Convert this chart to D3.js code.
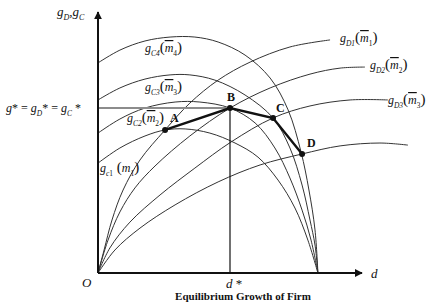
<!DOCTYPE html>
<html><head><meta charset="utf-8">
<script src="https://cdn.jsdelivr.net/npm/d3@7"></script>
<style>
html,body{margin:0;padding:0;background:#fff;}
svg text{font-family:"Liberation Serif","Times New Roman",serif;fill:#111;}
</style></head>
<body><svg id="c" width="436" height="304"></svg>
<script>
// ---- data (d, g) in chart units ----
const gC1 = [[0,42.1],[8.3,47.9],[17.8,52.5],[25.4,54.8],[33,55.2],[42.4,53.6],[51.9,49.8],[60.6,44.4],[68.2,35.6],[74.6,24.9],[79.5,12.6],[83.3,0]];
const gC2 = [[0,53.6],[8.3,59],[17.8,63.2],[29.2,65.5],[38.6,65.5],[50,63.2],[59.5,57.5],[67,47.9],[72.7,36.4],[77.3,24.1],[80.7,12.6],[83.3,0]];
const gC3 = [[0,66.3],[8.3,70.9],[17.8,74.3],[27.3,75.9],[34.8,75.9],[44.3,73.9],[55.7,68.2],[66.3,59.4],[72.7,47.9],[77.3,33.7],[80.3,20.3],[82.2,10.7],[83.3,0]];
const gC4 = [[0,80.5],[8.3,85.4],[17.8,88.9],[27.3,90.4],[36.7,90.4],[45.5,88.5],[55.7,83.5],[65.2,74.7],[72,62.5],[76.9,46.4],[79.9,31.8],[82.2,16.5],[83.3,0]];
const gD1 = [[0,0],[2.3,8.8],[5.3,20.3],[9.5,31.8],[15.9,43.3],[25.4,54.8],[34.8,65.1],[45.5,73.9],[57.6,80.8],[72.7,86.6],[87.9,89.3]];
const gD2 = [[0,0],[3.8,12.6],[8.3,23.4],[14,32.6],[21.6,41],[34.8,52.5],[50,63.2],[65.2,70.9],[80.3,76.2],[91.7,78.5],[101.1,78.9]];
const gD3 = [[0,0],[4.5,9.6],[12.1,19.5],[23.5,29.9],[36.7,40.2],[50.4,50.2],[66.3,59.4],[80.3,64],[95.5,66.3],[109.8,66.3]];
const gD4 = [[0,0],[6.4,8.8],[15.9,17.2],[29.2,26.1],[45.5,34.9],[61.4,41.4],[77.3,45.6],[91.7,48.7],[106.8,49.8],[117.4,49]];
const eqNames = ["A","B","C","D"];
const eqPoints = [[25.4,54.8],[50,63.2],[66.3,59.4],[77.3,45.6]];
const dStar = 50, gStar = 63.2;
const axisMax = [100, 100];

const svg = d3.select("#c");
const x = d3.scaleLinear().domain([0, axisMax[0]]).range([98, 362]);
const y = d3.scaleLinear().domain([0, axisMax[1]]).range([273, 12]);
const line = d3.line().x(d=>x(d[0])).y(d=>y(d[1])).curve(d3.curveCatmullRom.alpha(0.5));

// curves
[gC1,gC2,gC3,gC4,gD1,gD2,gD3,gD4].forEach(c=>{
  svg.append("path").attr("d", line(c)).attr("fill","none").attr("stroke","#333").attr("stroke-width",1);
});

// g* horizontal and d* vertical
svg.append("line").attr("x1",x(0)).attr("x2",x(dStar)).attr("y1",y(gStar)).attr("y2",y(gStar))
  .attr("stroke","#8c8c8c").attr("stroke-width",2);
svg.append("line").attr("x1",x(dStar)).attr("x2",x(dStar)).attr("y1",y(gStar)).attr("y2",y(0))
  .attr("stroke","#111").attr("stroke-width",1.2);

// equilibrium path
svg.append("path").attr("d", d3.line().x(d=>x(d[0])).y(d=>y(d[1]))(eqPoints))
  .attr("fill","none").attr("stroke","#111").attr("stroke-width",2.4);
svg.selectAll("circle.eq").data(eqPoints).join("circle").attr("class","eq")
  .attr("cx",d=>x(d[0])).attr("cy",d=>y(d[1])).attr("r",3).attr("fill","#111");

// axes with arrows
const defs = svg.append("defs");
defs.append("marker").attr("id","arr").attr("viewBox","0 0 10 10").attr("refX",9).attr("refY",5)
  .attr("markerWidth",4).attr("markerHeight",4).attr("orient","auto")
  .append("path").attr("d","M0,0 L10,5 L0,10 z").attr("fill","#111");
svg.append("line").attr("x1",x(0)).attr("y1",y(0)).attr("x2",x(0)).attr("y2",y(axisMax[1]))
  .attr("stroke","#111").attr("stroke-width",2).attr("marker-end","url(#arr)");
svg.append("line").attr("x1",x(0)).attr("y1",y(0)).attr("x2",x(axisMax[0])).attr("y2",y(0))
  .attr("stroke","#111").attr("stroke-width",2).attr("marker-end","url(#arr)");

// math label helper: parts [text, opts]
function mlabel(px, py, parts, size){
  const t = svg.append("text").attr("x",px).attr("y",py).attr("font-size",size);
  let shift = 0;
  parts.forEach(p=>{
    const txt = p[0], opt = p[1] || {};
    const ts = t.append("tspan").text(txt);
    const target = opt.sub ? size*0.3 : 0;
    if (target !== shift){ ts.attr("dy", target - shift); shift = target; }
    if (opt.sub) ts.attr("font-size", size*0.62);
    if (opt.it) ts.attr("font-style","italic");
    if (opt.b) ts.attr("font-weight","bold");
    if (opt.over) ts.style("text-decoration","overline");
    if (opt.big) ts.attr("font-size", size*1.25);
  });
  return t;
}
const I={it:true}, S={sub:true,it:true}, SN={sub:true}, O={it:true,over:true}, P={big:true};

mlabel(57, 16, [["g",I],["D",S],[",",{}],["g",I],["C",S]], 13);
mlabel(6, 112, [["g",I],["* = ",{}],["g",I],["D",S],["* = ",{}],["g",I],["C",S],[" *",{}]], 12);

function cLabel(px, py, k){
  return mlabel(px, py, [["g",I],["C"+k,S],["(",P],["m",O],[String(k),SN],[")",P]], 12);
}
cLabel(145, 52, 4);
cLabel(145, 91, 3);
cLabel(127, 122, 2);
mlabel(100, 172, [["g",I],["c",S],["1",SN],[" (",P],["m",I],["1",SN],[")",P]], 12);

function dLabel(px, py, k){
  return mlabel(px, py, [["g",I],["D"+k,S],["(",P],["m",O],[String(k),SN],[")",P]], 12);
}
dLabel(340, 42, 1);
dLabel(370, 69, 2);
dLabel(388, 104, 3);

const eqOff = [[5,-8],[-3,-7],[3,-6],[5,-7]];
eqNames.forEach((n,i)=>{
  svg.append("text").attr("x", x(eqPoints[i][0])+eqOff[i][0]).attr("y", y(eqPoints[i][1])+eqOff[i][1])
    .attr("font-size",12).attr("font-weight","bold").text(n);
});

svg.append("text").attr("x",82).attr("y",287).attr("font-size",13).attr("font-style","italic").text("O");
mlabel(x(dStar)-4, 288, [["d",I],[" *",{}]], 13);
svg.append("text").attr("x",371).attr("y",278).attr("font-size",13).attr("font-style","italic").text("d");
svg.append("text").attr("x",243).attr("y",300).attr("font-size",11).attr("font-weight","bold")
  .attr("text-anchor","middle").text("Equilibrium Growth of Firm");
</script></body></html>
